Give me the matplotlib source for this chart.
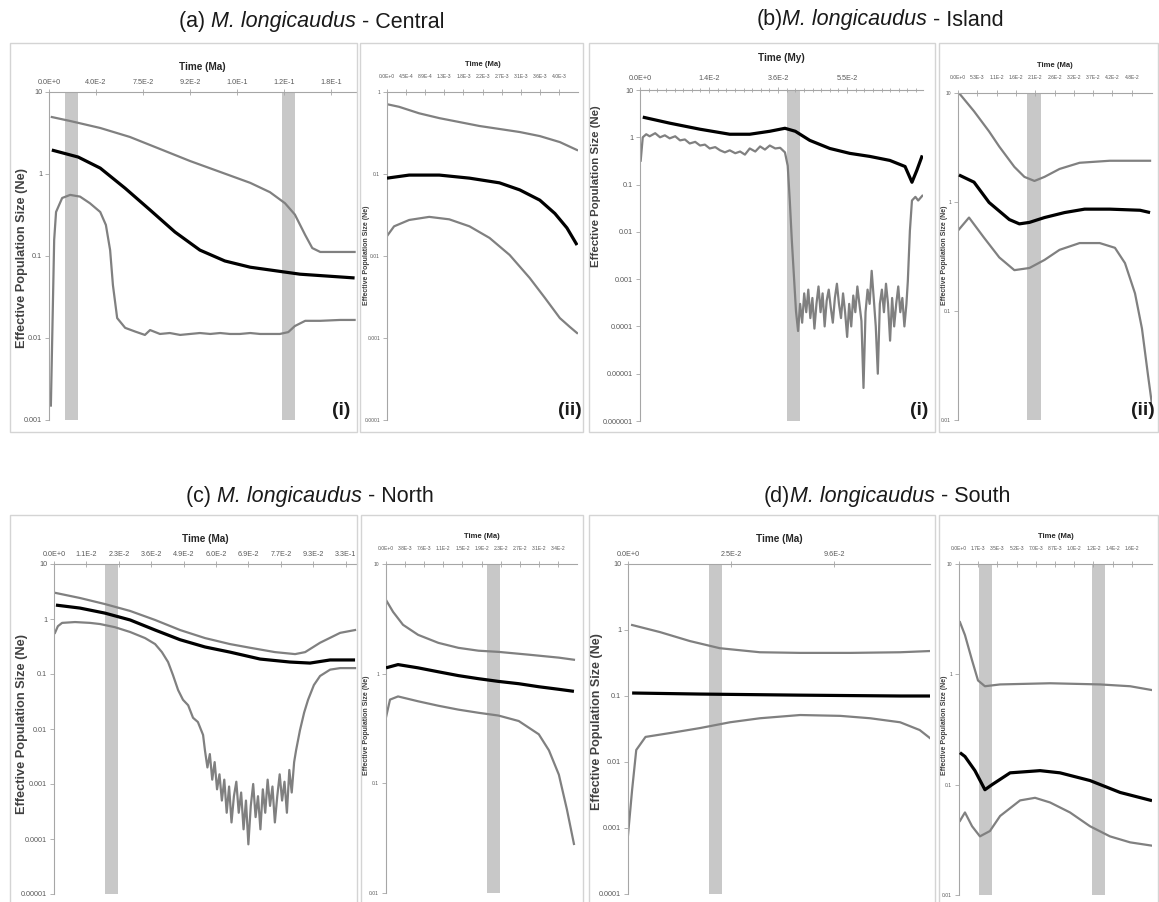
import numpy as np
import matplotlib
matplotlib.use('Agg')
import matplotlib.pyplot as plt
from matplotlib.patches import Rectangle
from matplotlib.ticker import MultipleLocator, NullLocator
from matplotlib import font_manager

plt.rcParams['font.family'] = ['Liberation Sans', 'DejaVu Sans']
_names = {f.name for f in font_manager.fontManager.ttflist}
NARROW = 'Liberation Sans Narrow' if 'Liberation Sans Narrow' in _names else 'Liberation Sans'

W, H = 1159, 902
GRAY = '#808080'
BAND = '#c8c8c8'
AXC = '#a6a6a6'
TXT = '#595959'

# ---------------- data ----------------
# (a) Central (i)
a1_xticks = ['0.0E+0', '4.0E-2', '7.5E-2', '9.2E-2', '1.0E-1', '1.2E-1', '1.8E-1']
a1_yticks = ['10', '1', '0.1', '0.01', '0.001']
a1_bands = [(0.34, 0.62), (4.96, 5.23)]
a1_up_x = [0.06, 0.45, 1.09, 1.72, 2.36, 3.0, 3.64, 4.28, 4.70, 5.02, 5.23, 5.45, 5.60, 5.77, 6.5]
a1_up = [4.95, 4.43, 3.64, 2.83, 2.02, 1.44, 1.06, 0.78, 0.60, 0.44, 0.32, 0.18, 0.125, 0.112, 0.112]
a1_med_x = [0.06, 0.62, 1.09, 1.62, 2.15, 2.68, 3.21, 3.74, 4.28, 5.34, 6.5]
a1_med = [1.96, 1.61, 1.18, 0.67, 0.364, 0.196, 0.118, 0.087, 0.073, 0.060, 0.054]
a1_lo_x = [0.04, 0.11, 0.15, 0.28, 0.45, 0.66, 0.87, 1.09, 1.21, 1.30, 1.36, 1.45, 1.62, 1.83,
           2.04, 2.15, 2.36, 2.57, 2.79, 3.0, 3.21, 3.43, 3.64, 3.85, 4.06, 4.28, 4.49, 4.70,
           4.91, 5.09, 5.23, 5.45, 5.77, 6.19, 6.5]
a1_lo = [0.0015, 0.157, 0.344, 0.51, 0.556, 0.53, 0.44, 0.344, 0.239, 0.118, 0.044, 0.0175, 0.0133, 0.012,
         0.0109, 0.0125, 0.0112, 0.0115, 0.0109, 0.0112, 0.0115, 0.0112, 0.0115, 0.0112, 0.0112, 0.0115,
         0.0112, 0.0112, 0.0112, 0.0118, 0.014, 0.0162, 0.0162, 0.0166, 0.0166]

# (a) Central (ii)
a2_xticks = ['0.0E+0', '4.5E-4', '8.9E-4', '1.3E-3', '1.8E-3', '2.2E-3', '2.7E-3', '3.1E-3', '3.6E-3', '4.0E-3']
a2_yticks = ['1', '0.1', '0.01', '0.001', '0.0001']
a2_up_x = [0, 0.63, 1.68, 2.74, 3.79, 4.84, 5.89, 6.95, 8.0, 9.05, 9.95]
a2_up = [0.71, 0.66, 0.55, 0.48, 0.43, 0.385, 0.354, 0.325, 0.29, 0.245, 0.196]
a2_med_x = [0, 1.16, 2.74, 4.32, 5.89, 6.95, 8.0, 8.79, 9.42, 9.95]
a2_med = [0.089, 0.097, 0.097, 0.089, 0.078, 0.064, 0.048, 0.033, 0.022, 0.0136]
a2_lo_x = [0, 0.37, 1.16, 2.21, 3.26, 4.32, 5.37, 6.42, 7.47, 8.26, 9.05, 9.58, 9.95]
a2_lo = [0.0175, 0.023, 0.0275, 0.030, 0.028, 0.023, 0.0166, 0.0103, 0.0054, 0.0031, 0.00175, 0.00136, 0.00115]

# (b) Island (i)
b1_xticks = ['0.0E+0', '1.4E-2', '3.6E-2', '5.5E-2']
b1_yticks = ['10', '1', '0.1', '0.01', '0.001', '0.0001', '0.00001', '0.000001']
b1_bands = [(2.13, 2.32)]
b1_med_x = [0.04, 0.43, 0.87, 1.30, 1.59, 1.88, 2.10, 2.25, 2.46, 2.75, 3.04, 3.33, 3.62, 3.84, 3.94, 4.01, 4.09]
b1_med = [2.67, 1.99, 1.48, 1.16, 1.16, 1.34, 1.55, 1.34, 0.86, 0.58, 0.457, 0.394, 0.324, 0.241, 0.112, 0.199, 0.414]
b1_lo_x = [0.01, 0.04, 0.09, 0.14, 0.22, 0.29, 0.36, 0.43, 0.51, 0.58, 0.65, 0.72, 0.80, 0.87, 0.94, 1.01,
           1.09, 1.16, 1.23, 1.30, 1.38, 1.45, 1.52, 1.59, 1.67, 1.74, 1.81, 1.88, 1.96, 2.03, 2.10, 2.14,
           2.17, 2.20, 2.23, 2.26]
b1_lo = [0.32, 1.0, 1.16, 1.05, 1.22, 1.0, 1.1, 0.95, 1.05, 0.86, 0.9, 0.74, 0.8, 0.67, 0.7, 0.58,
         0.62, 0.53, 0.48, 0.53, 0.46, 0.5, 0.43, 0.58, 0.5, 0.64, 0.55, 0.67, 0.58, 0.6, 0.48, 0.25,
         0.046, 0.0064, 0.00116, 0.00021]
b1_noise = [8e-5, 3e-4, 1.2e-4, 5e-4, 2e-4, 6e-4, 1.5e-4, 4e-4, 9e-5, 3e-4, 7e-4, 2e-4, 5e-4, 1e-4,
            3.5e-4, 6e-4, 2.5e-4, 1.2e-4, 4e-4, 8e-4, 3e-4, 1.5e-4, 5e-4, 2e-4, 6e-5, 3e-4, 1e-4,
            4.5e-4, 2e-4, 7e-4, 3e-4, 1.3e-4, 5e-6, 2e-4, 6e-4, 3e-4, 1.5e-3, 4e-4, 1e-4, 1e-5, 3e-4,
            6e-4, 2e-4, 8e-4, 3e-4, 5e-5, 4e-4, 1e-4, 3e-4, 7e-4, 2e-4, 4e-4, 1e-4, 3e-4]
b1_noise_span = (2.29, 3.86)
b1_tail_x = [3.88, 3.91, 3.94, 3.99, 4.03, 4.09]
b1_tail = [9e-4, 0.0105, 0.046, 0.055, 0.046, 0.058]

# (b) Island (ii)
b2_xticks = ['0.0E+0', '5.3E-3', '1.1E-2', '1.6E-2', '2.1E-2', '2.6E-2', '3.2E-2', '3.7E-2', '4.2E-2', '4.8E-2']
b2_yticks = ['10', '1', '0.1', '0.01']
b2_bands = [(3.6, 4.3)]
b2_up_x = [0.05, 0.83, 1.61, 2.14, 2.92, 3.44, 3.96, 4.48, 5.26, 6.30, 7.86, 9.95]
b2_up = [10, 6.8, 4.44, 3.22, 2.10, 1.70, 1.56, 1.70, 2.01, 2.29, 2.39, 2.39]
b2_med_x = [0.05, 0.83, 1.61, 2.66, 3.18, 3.70, 4.48, 5.52, 6.56, 7.86, 9.43, 9.95]
b2_med = [1.77, 1.52, 0.99, 0.69, 0.63, 0.65, 0.72, 0.80, 0.86, 0.86, 0.84, 0.80]
b2_lo_x = [0.05, 0.57, 1.35, 2.14, 2.92, 3.70, 4.48, 5.26, 6.30, 7.34, 8.13, 8.65, 9.17, 9.53, 9.84, 10.05]
b2_lo = [0.56, 0.72, 0.47, 0.31, 0.237, 0.248, 0.294, 0.364, 0.42, 0.42, 0.38, 0.275, 0.145, 0.069, 0.026, 0.0138]

# (c) North (i)
c1_xticks = ['0.0E+0', '1.1E-2', '2.3E-2', '3.6E-2', '4.9E-2', '6.0E-2', '6.9E-2', '7.7E-2', '9.3E-2', '3.3E-1']
c1_yticks = ['10', '1', '0.1', '0.01', '0.001', '0.0001', '0.00001']
c1_bands = [(1.57, 1.98)]
c1_up_x = [0.06, 0.80, 1.57, 2.35, 3.12, 3.89, 4.66, 5.43, 6.05, 6.82, 7.44, 7.75, 8.21, 8.83, 9.29]
c1_up = [2.97, 2.41, 1.87, 1.40, 0.96, 0.63, 0.45, 0.35, 0.30, 0.25, 0.23, 0.25, 0.37, 0.56, 0.63]
c1_med_x = [0.06, 0.80, 1.57, 2.35, 3.12, 3.89, 4.66, 5.43, 6.36, 7.28, 7.90, 8.52, 9.29]
c1_med = [1.79, 1.58, 1.28, 0.96, 0.63, 0.42, 0.31, 0.25, 0.187, 0.165, 0.158, 0.18, 0.18]
c1_lo_x = [0.03, 0.12, 0.25, 0.65, 1.11, 1.42, 1.88, 2.35, 2.81, 3.12, 3.33, 3.52, 3.67, 3.83, 3.98,
           4.14, 4.29, 4.44, 4.60]
c1_lo = [0.56, 0.74, 0.85, 0.88, 0.85, 0.81, 0.71, 0.58, 0.45, 0.35, 0.25, 0.165, 0.096, 0.051, 0.034,
         0.027, 0.016, 0.0134, 0.0078]
c1_noise = [4e-3, 2e-3, 3.5e-3, 1.2e-3, 2.5e-3, 8e-4, 1.5e-3, 5e-4, 1.2e-3, 3e-4, 9e-4, 2e-4, 6e-4,
            1.1e-3, 3e-4, 7e-4, 1.5e-4, 5e-4, 8e-5, 4e-4, 1e-3, 2.5e-4, 6e-4, 1.5e-4, 8e-4, 3e-4,
            1.2e-3, 4e-4, 9e-4, 2e-4, 6e-4, 1.5e-3, 5e-4, 1.1e-3, 3e-4, 1.8e-3, 7e-4, 2.5e-3]
c1_noise_span = (4.66, 7.41)
c1_tail_x = [7.47, 7.59, 7.72, 7.84, 8.02, 8.21, 8.52, 8.83, 9.29]
c1_tail = [0.0041, 0.0095, 0.02, 0.034, 0.063, 0.092, 0.12, 0.128, 0.128]

# (c) North (ii)
c2_xticks = ['0.0E+0', '3.8E-3', '7.6E-3', '1.1E-2', '1.5E-2', '1.9E-2', '2.3E-2', '2.7E-2', '3.1E-2', '3.4E-2']
c2_yticks = ['10', '1', '0.1', '0.01']
c2_bands = [(5.3, 5.95)]
c2_up_x = [0, 0.37, 0.89, 1.68, 2.74, 3.79, 4.84, 5.89, 7.47, 9.05, 9.84]
c2_up = [4.7, 3.66, 2.79, 2.26, 1.91, 1.72, 1.62, 1.58, 1.49, 1.40, 1.34]
c2_med_x = [0, 0.63, 1.68, 2.74, 3.79, 4.84, 5.89, 6.95, 8.0, 9.05, 9.84]
c2_med = [1.13, 1.21, 1.13, 1.04, 0.96, 0.90, 0.85, 0.81, 0.76, 0.72, 0.69]
c2_lo_x = [0, 0.21, 0.63, 1.68, 2.74, 3.79, 4.84, 5.89, 6.95, 8.0, 8.53, 9.05, 9.47, 9.84]
c2_lo = [0.40, 0.58, 0.62, 0.56, 0.51, 0.47, 0.44, 0.415, 0.37, 0.28, 0.2, 0.12, 0.058, 0.028]

# (d) South (i)
d1_xticks = ['0.0E+0', '2.5E-2', '9.6E-2']
d1_yticks = ['10', '1', '0.1', '0.01', '0.001', '0.0001']
d1_bands = [(0.79, 0.91)]
d1_up_x = [0.04, 0.31, 0.60, 0.89, 1.28, 1.67, 2.16, 2.64, 2.93]
d1_up = [1.19, 0.93, 0.68, 0.53, 0.46, 0.45, 0.45, 0.46, 0.48]
d1_med_x = [0.04, 0.70, 1.67, 2.64, 2.93]
d1_med = [0.111, 0.107, 0.103, 0.10, 0.10]
d1_lo_x = [0.0, 0.04, 0.08, 0.17, 0.41, 0.70, 0.99, 1.28, 1.67, 2.06, 2.35, 2.64, 2.83, 2.93]
d1_lo = [0.00078, 0.0038, 0.0152, 0.024, 0.0275, 0.0327, 0.040, 0.046, 0.0515, 0.050, 0.046, 0.040, 0.0305, 0.023]

# (d) South (ii)
d2_xticks = ['0.0E+0', '1.7E-3', '3.5E-3', '5.2E-3', '7.0E-3', '8.7E-3', '1.0E-2', '1.2E-2', '1.4E-2', '1.6E-2']
d2_yticks = ['10', '1', '0.1', '0.01']
d2_bands = [(1.04, 1.72), (6.93, 7.6)]
d2_up_x = [0.05, 0.31, 0.68, 0.99, 1.35, 2.14, 4.74, 7.34, 8.91, 10.05]
d2_up = [2.97, 2.27, 1.34, 0.88, 0.78, 0.81, 0.83, 0.81, 0.78, 0.72]
d2_med_x = [0.05, 0.31, 0.83, 1.35, 1.72, 2.66, 4.22, 5.26, 6.82, 8.39, 10.05]
d2_med = [0.195, 0.18, 0.134, 0.09, 0.10, 0.128, 0.134, 0.128, 0.109, 0.085, 0.0716]
d2_lo_x = [0.05, 0.31, 0.68, 1.09, 1.61, 2.14, 3.18, 3.96, 4.74, 5.78, 6.82, 7.86, 8.91, 10.05]
d2_lo = [0.047, 0.056, 0.042, 0.034, 0.038, 0.052, 0.072, 0.076, 0.069, 0.056, 0.042, 0.034, 0.030, 0.028]

# ---------------- drawing ----------------
fig = plt.figure(figsize=(W / 100, H / 100), dpi=100)
fig.patch.set_facecolor('white')


def px_axes(x0, y0, x1, y1):
    return fig.add_axes([x0 / W, 1 - y1 / H, (x1 - x0) / W, (y1 - y0) / H])


def frame(x0, y0, x1, y1):
    fig.add_artist(Rectangle((x0 / W, 1 - y1 / H), (x1 - x0) / W, (y1 - y0) / H,
                             transform=fig.transFigure, fill=False, ec='#d4d4d4', lw=1.0))


def panel(rect, xmax, xticks, yticks, lines, bands=(), xlabel='Time (Ma)', small=False, minor=None,
          xpad=None, lpad=None):
    ax = px_axes(*rect)
    ax.set_yscale('log')
    yv = [float(s) for s in yticks]
    ax.set_ylim(min(yv), max(yv))
    ax.set_xlim(0, xmax)
    for b0, b1 in bands:
        ax.axvspan(b0, b1, color=BAND, lw=0, zorder=0)
    for x, y, kind in lines:
        if kind == 'med':
            ax.plot(x, y, color='black', lw=2.3, zorder=3, solid_capstyle='butt')
        else:
            ax.plot(x, y, color=GRAY, lw=1.6, zorder=2)
    ax.xaxis.tick_top()
    ax.xaxis.set_label_position('top')
    ax.set_xticks(range(len(xticks)))
    ax.set_xticklabels(xticks)
    if minor:
        ax.xaxis.set_minor_locator(MultipleLocator(minor))
    ax.set_yticks(yv)
    ax.set_yticklabels(yticks)
    ax.yaxis.set_minor_locator(NullLocator())
    for s in ['right', 'bottom']:
        ax.spines[s].set_visible(False)
    for s in ['top', 'left']:
        ax.spines[s].set_color(AXC)
        ax.spines[s].set_linewidth(0.8)
    fs = 3.6 if small else 5.2
    ax.tick_params(axis='both', which='both', colors=AXC, labelcolor=TXT, labelsize=fs,
                   labelfontfamily=NARROW, width=0.6, pad=2)
    if xpad is None:
        xpad = 7 if small else 2
    if lpad is None:
        lpad = 6 if small else 7
    ax.tick_params(axis='x', which='major', direction='inout', length=4, pad=xpad)
    ax.tick_params(axis='x', which='minor', direction='inout', length=3)
    ax.tick_params(axis='y', which='major', direction='out', length=3)
    ax.set_xlabel(xlabel, fontsize=5.5 if small else 7.2, fontweight='bold', family=NARROW,
                  color='#262626', labelpad=lpad)
    ax.patch.set_alpha(0)
    return ax


def ylab(x, y, size):
    fig.text(x / W, 1 - y / H, 'Effective Population Size (Ne)', rotation=90, ha='center', va='center',
             fontsize=size, fontweight='bold', color='#404040')


def rich_title(xc, yc, parts, size=15.5):
    r = fig.canvas.get_renderer()
    ts = [fig.text(0, 1 - yc / H, s, style=st, fontsize=size, va='center', ha='left', color='#1a1a1a')
          for s, st in parts]
    ws = [t.get_window_extent(r).width for t in ts]
    cur = xc - sum(ws) / 2
    for t, w in zip(ts, ws):
        t.set_x(cur / W)
        cur += w


# frames
for (x0, y0, x1, y1) in [(10, 43, 357, 432), (360, 43, 583, 432), (589, 43, 935, 432), (939, 43, 1158, 432),
                         (10, 515, 357, 910), (361, 515, 583, 910), (589, 515, 935, 910), (939, 515, 1158, 910)]:
    frame(x0, y0, x1, y1)

# (a)
panel((49, 92, 356, 420), 6.53, a1_xticks, a1_yticks,
      [(a1_up_x, a1_up, 'g'), (a1_lo_x, a1_lo, 'g'), (a1_med_x, a1_med, 'med')], a1_bands)
panel((387, 92, 578, 420), 10.0, a2_xticks, a2_yticks,
      [(a2_up_x, a2_up, 'g'), (a2_lo_x, a2_lo, 'g'), (a2_med_x, a2_med, 'med')], small=True)

# (b)
b1_nx = np.linspace(b1_noise_span[0], b1_noise_span[1], len(b1_noise))
b1_lo_all_x = list(b1_lo_x) + list(b1_nx) + b1_tail_x
b1_lo_all = b1_lo + b1_noise + b1_tail
panel((640, 90, 923, 421), 4.1, b1_xticks, b1_yticks,
      [(b1_lo_all_x, b1_lo_all, 'g'), (b1_med_x, b1_med, 'med')], b1_bands,
      xlabel='Time (My)', minor=1 / 8, xpad=4, lpad=10)
panel((958, 93, 1152, 420), 10.05, b2_xticks, b2_yticks,
      [(b2_up_x, b2_up, 'g'), (b2_lo_x, b2_lo, 'g'), (b2_med_x, b2_med, 'med')], b2_bands, small=True)

# (c)
c1_nx = np.linspace(c1_noise_span[0], c1_noise_span[1], len(c1_noise))
c1_lo_all_x = list(c1_lo_x) + list(c1_nx) + c1_tail_x
c1_lo_all = c1_lo + c1_noise + c1_tail
panel((54, 564, 357, 894), 9.35, c1_xticks, c1_yticks,
      [(c1_up_x, c1_up, 'g'), (c1_lo_all_x, c1_lo_all, 'g'), (c1_med_x, c1_med, 'med')], c1_bands)
panel((386, 564, 577, 893), 10.0, c2_xticks, c2_yticks,
      [(c2_up_x, c2_up, 'g'), (c2_lo_x, c2_lo, 'g'), (c2_med_x, c2_med, 'med')], c2_bands, small=True)

# (d)
panel((628, 564, 930, 894), 2.93, d1_xticks, d1_yticks,
      [(d1_up_x, d1_up, 'g'), (d1_lo_x, d1_lo, 'g'), (d1_med_x, d1_med, 'med')], d1_bands)
panel((959, 564, 1152, 895), 10.05, d2_xticks, d2_yticks,
      [(d2_up_x, d2_up, 'g'), (d2_lo_x, d2_lo, 'g'), (d2_med_x, d2_med, 'med')], d2_bands, small=True)

# y labels
ylab(22, 258, 9.2)
ylab(367, 255, 5.0)
ylab(596, 186, 8.2)
ylab(944, 255, 5.0)
ylab(22, 724, 9.2)
ylab(367, 725, 5.0)
ylab(597, 722, 9.0)
ylab(944, 725, 5.0)

# panel numbers
for x, y, s in [(341, 410, '(i)'), (570, 410, '(ii)'), (919, 410, '(i)'), (1143, 410, '(ii)')]:
    fig.text(x / W, 1 - y / H, s, ha='center', va='center', fontsize=14, fontweight='bold', color='#1a1a1a')

# titles
rich_title(312, 22, [('(a) ', 'normal'), ('M. longicaudus', 'italic'), (' - Central', 'normal')])
rich_title(880, 20, [('(b)', 'normal'), ('M. longicaudus', 'italic'), (' - Island', 'normal')])
rich_title(310, 496, [('(c) ', 'normal'), ('M. longicaudus', 'italic'), (' - North', 'normal')])
rich_title(887, 496, [('(d)', 'normal'), ('M. longicaudus', 'italic'), (' - South', 'normal')])

fig.savefig('out.png', dpi=100, facecolor='white')
